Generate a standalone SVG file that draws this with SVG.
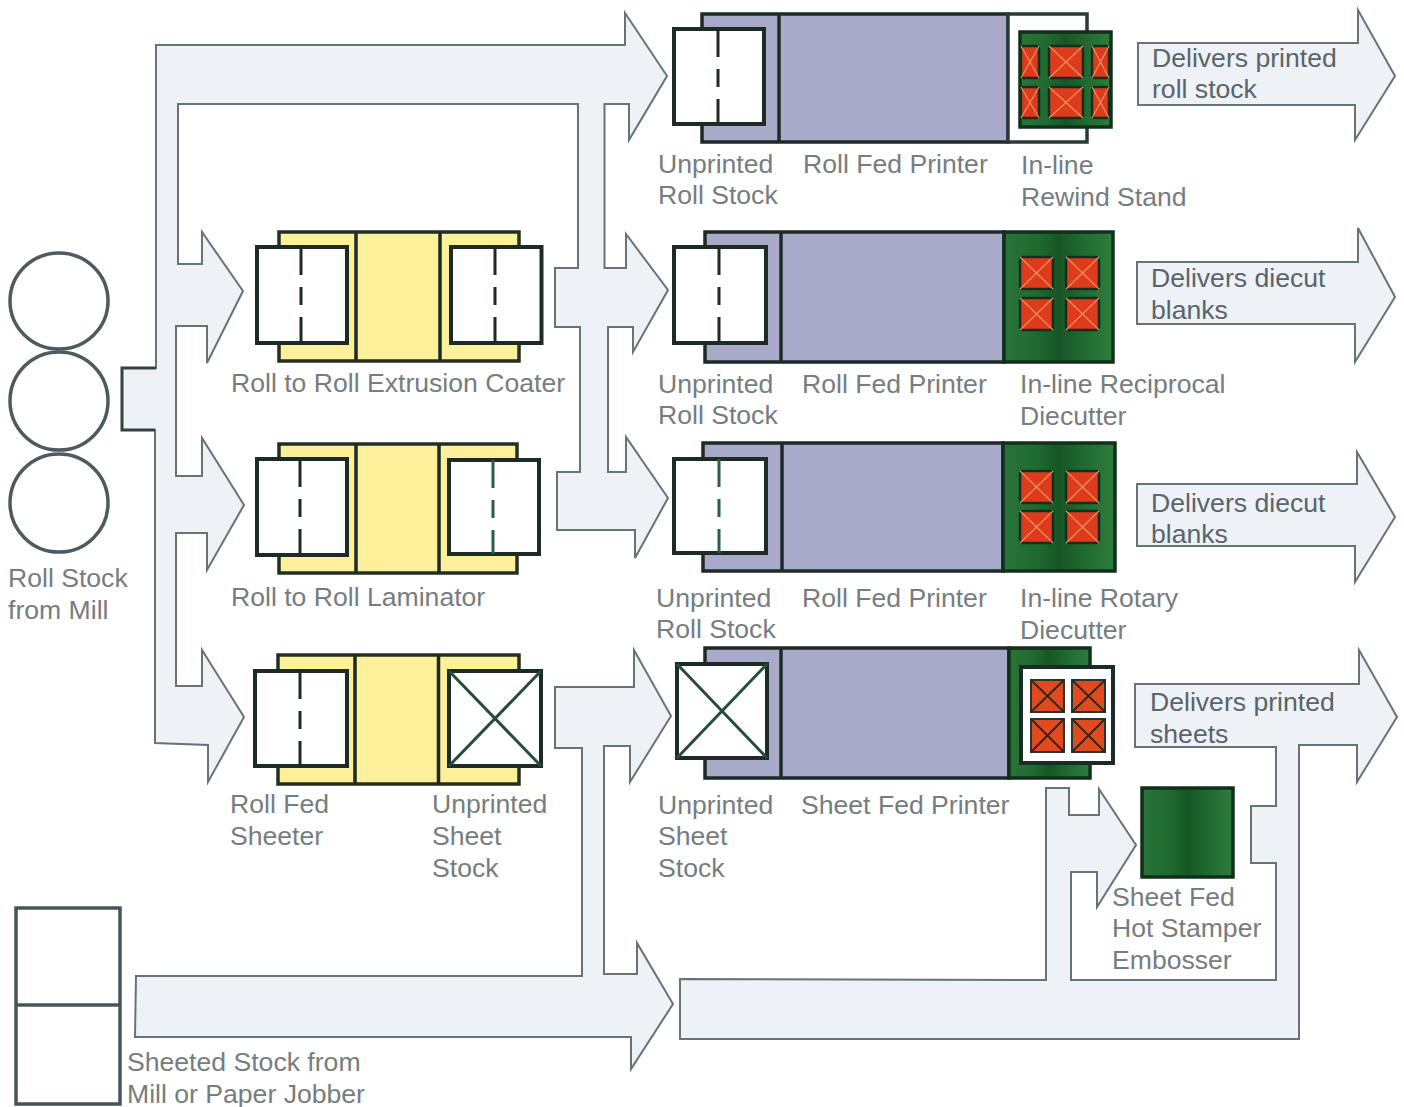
<svg xmlns="http://www.w3.org/2000/svg" width="1404" height="1107" viewBox="0 0 1404 1107">
<style>
text{font-family:"Liberation Sans",Arial,sans-serif;font-size:26.6px;fill:#767d80}
text.dk{fill:#58656a}
.flow{fill:#eef1f6;stroke:#667478;stroke-width:2;stroke-linejoin:miter}
.stub{fill:none;stroke:#34433f;stroke-width:3}
.ln{fill:none;stroke:#1d2b27;stroke-width:3.5}
.yl{fill:#fcf09a;stroke:#242f22;stroke-width:3.5}
.lv{fill:#a9a9c9;stroke:#1d2b27;stroke-width:3.5}
.wh{fill:#fff;stroke:#1d2b27;stroke-width:4}
.gr{fill:url(#band);stroke:#10301b;stroke-width:3.5}
.tile{fill:#de3a1c;stroke:#14301c;stroke-width:2.5}
.tile2{fill:#e04a1e;stroke:#26382c;stroke-width:2}
.x{stroke:#f0905e;stroke-width:1.2;fill:none}
.xk{stroke:#26281c;stroke-width:1.8;fill:none}
.xb{stroke:#274d3a;stroke-width:3;fill:none}
.dash{stroke:#1d2b27;stroke-width:3;stroke-dasharray:28 12 18 12 26;fill:none}
.dash.g{stroke:#2b5f4a}
.stock{fill:#fff;stroke:#465558;stroke-width:3.5}
.rd{fill:#fff;stroke:#4d5b60;stroke-width:3.5}
</style>
<defs>
<linearGradient id="band">
<stop offset="0" stop-color="#2a7439"/>
<stop offset="0.3" stop-color="#1f6a30"/>
<stop offset="0.5" stop-color="#175626"/>
<stop offset="0.75" stop-color="#216c32"/>
<stop offset="1" stop-color="#2f7c3e"/>
</linearGradient>
</defs>
<g id="connectors">
<polygon class="flow" points="122,368 156,368 156,45 625,45 625,13 667,76 629,140 629,104 604.5,104 604.5,268 626,268 626,234 668,290 633,352 633,327 608,327 608,472 626,472 626,437 668,498 635,558 635,530 557,530 557,472 580,472 580,327 555,327 555,268 578,268 578,104 178,104 178,264 202,264 202,232 243,291 207,363 207,326 176,326 176,476 202,476 202,438 244,505 207,570 207,533 176,533 176,686 202,686 202,650 244,717 208,782 208,745 155,743 155,430 122,430"/>
<polyline class="stub" points="156,368 122,368 122,430 155,430"/>
<polygon class="flow" points="136,976 582,976 582,748 555,748 555,687 634,687 634,650 671,716 630,782 630,746 604,746 604,974 637,974 637,943 673,1004 631,1069 631,1037 135,1037"/>
<polygon class="flow" points="680,979 1046,980 1046,788 1069,788 1069,815 1099,815 1099,789 1136,845 1097,907 1097,872 1071,872 1071,980 1276,980 1276,863 1251,863 1251,806 1276,806 1276,747 1135,747 1135,684 1359,684 1359,650 1397,717 1357,782 1357,745 1299,745 1299,1039 680,1039"/>
<polygon class="flow" points="1138,43 1358,43 1358,10 1395,76 1355,140 1355,105 1138,105"/>
<polygon class="flow" points="1137,262 1358,262 1358,228 1395,297 1355,362 1355,324 1137,324"/>
<polygon class="flow" points="1137,484 1357,484 1357,452 1395,517 1355,582 1355,546 1137,546"/>
</g>
<g id="mill-rolls">
<ellipse class="rd" cx="59" cy="301" rx="49" ry="48"/>
<ellipse class="rd" cx="59" cy="401" rx="49" ry="49"/>
<ellipse class="rd" cx="59" cy="503" rx="49" ry="49"/>
<text x="8" y="587">Roll Stock</text>
<text x="8" y="619">from Mill</text>
</g>
<g id="sheet-stock">
<rect class="stock" x="16" y="908" width="104" height="196"/>
<line class="stock" x1="16" y1="1005" x2="120" y2="1005"/>
<text x="127" y="1071">Sheeted Stock from</text>
<text x="127" y="1103">Mill or Paper Jobber</text>
</g>
<g id="extrusion-coater">
<rect class="yl" x="279" y="232" width="240" height="129"/>
<line class="ln" x1="356" y1="232" x2="356" y2="361"/>
<line class="ln" x1="440" y1="232" x2="440" y2="361"/>
<rect class="wh" x="257" y="247" width="90" height="96"/>
<line class="dash" x1="301" y1="247" x2="301" y2="343"/>
<rect class="wh" x="451" y="247" width="90.500" height="96"/>
<line class="dash" x1="495" y1="247" x2="495" y2="343"/>
<text x="231" y="392">Roll to Roll Extrusion Coater</text>
</g>
<g id="laminator">
<rect class="yl" x="279" y="444" width="238" height="129"/>
<line class="ln" x1="356" y1="444" x2="356" y2="573"/>
<line class="ln" x1="439" y1="444" x2="439" y2="573"/>
<rect class="wh" x="257" y="459" width="90" height="96"/>
<line class="dash" x1="300" y1="459" x2="300" y2="555"/>
<rect class="wh" x="449" y="460" width="90" height="94"/>
<line class="dash g" x1="493" y1="460" x2="493" y2="554"/>
<text x="231" y="606">Roll to Roll Laminator</text>
</g>
<g id="sheeter">
<rect class="yl" x="278" y="655" width="241" height="129"/>
<line class="ln" x1="355" y1="655" x2="355" y2="784"/>
<line class="ln" x1="438.500" y1="655" x2="438.500" y2="784"/>
<rect class="wh" x="255" y="671" width="92" height="95"/>
<line class="dash" x1="300" y1="671" x2="300" y2="766"/>
<rect class="wh" x="449" y="671" width="92" height="95"/>
<path class="xb" d="M449,671L541,766M541,671L449,766"/>
<text x="230" y="813">Roll Fed</text>
<text x="230" y="845">Sheeter</text>
<text x="432" y="813">Unprinted</text>
<text x="432" y="845">Sheet</text>
<text x="432" y="877">Stock</text>
</g>
<g id="printer-rewind">
<rect class="lv" x="702" y="14" width="306" height="128"/>
<rect x="1008" y="14" width="79" height="128" fill="#fff" stroke="#2a3a38" stroke-width="3.5"/>
<line class="ln" x1="779" y1="14" x2="779" y2="142"/>
<rect class="wh" x="674" y="29" width="90" height="95"/>
<line class="dash" x1="718" y1="29" x2="718" y2="124"/>
<rect class="gr" x="1020" y="32" width="91" height="95"/>
<rect class="tile" x="1021" y="46" width="18" height="32" rx="3"/>
<rect class="tile" x="1049" y="46" width="34" height="32" rx="3"/>
<rect class="tile" x="1092" y="46" width="17" height="32" rx="3"/>
<rect class="tile" x="1021" y="87" width="18" height="31" rx="3"/>
<rect class="tile" x="1049" y="87" width="34" height="31" rx="3"/>
<rect class="tile" x="1092" y="87" width="17" height="31" rx="3"/>
<path class="x" d="M1021,46L1039,78M1039,46L1021,78M1049,46L1083,78M1083,46L1049,78M1092,46L1109,78M1109,46L1092,78M1021,87L1039,118M1039,87L1021,118M1049,87L1083,118M1083,87L1049,118M1092,87L1109,118M1109,87L1092,118"/>
<text x="658" y="173">Unprinted</text>
<text x="658" y="204">Roll Stock</text>
<text x="803" y="173">Roll Fed Printer</text>
<text x="1021" y="174">In-line</text>
<text x="1021" y="206">Rewind Stand</text>
<text class="dk" x="1152" y="67">Delivers printed</text>
<text class="dk" x="1152" y="98">roll stock</text>
</g>
<g id="printer-reciprocal">
<rect class="lv" x="705" y="232" width="299" height="130"/>
<rect class="gr" x="1004" y="232" width="109" height="130"/>
<line class="ln" x1="781" y1="232" x2="781" y2="362"/>
<rect class="wh" x="674" y="247" width="92" height="96"/>
<line class="dash" x1="719" y1="247" x2="719" y2="343"/>
<rect class="tile" x="1020" y="257" width="33" height="32" rx="3"/>
<rect class="tile" x="1066" y="257" width="33" height="32" rx="3"/>
<rect class="tile" x="1020" y="298" width="33" height="32" rx="3"/>
<rect class="tile" x="1066" y="298" width="33" height="32" rx="3"/>
<path class="x" d="M1020,257L1053,289M1053,257L1020,289M1066,257L1099,289M1099,257L1066,289M1020,298L1053,330M1053,298L1020,330M1066,298L1099,330M1099,298L1066,330"/>
<text x="658" y="393">Unprinted</text>
<text x="658" y="424">Roll Stock</text>
<text x="802" y="393">Roll Fed Printer</text>
<text x="1020" y="393">In-line Reciprocal</text>
<text x="1020" y="425">Diecutter</text>
<text class="dk" x="1151" y="287">Delivers diecut</text>
<text class="dk" x="1151" y="319">blanks</text>
</g>
<g id="printer-rotary">
<rect class="lv" x="703" y="443" width="300" height="128"/>
<rect class="gr" x="1003" y="443" width="112" height="128"/>
<line class="ln" x1="782" y1="443" x2="782" y2="571"/>
<rect class="wh" x="674" y="459" width="92" height="94"/>
<line class="dash g" x1="719" y1="459" x2="719" y2="553"/>
<rect class="tile" x="1020" y="471" width="33" height="32" rx="3"/>
<rect class="tile" x="1066" y="471" width="33" height="32" rx="3"/>
<rect class="tile" x="1020" y="511" width="33" height="32" rx="3"/>
<rect class="tile" x="1066" y="511" width="33" height="32" rx="3"/>
<path class="x" d="M1020,471L1053,503M1053,471L1020,503M1066,471L1099,503M1099,471L1066,503M1020,511L1053,543M1053,511L1020,543M1066,511L1099,543M1099,511L1066,543"/>
<text x="656" y="607">Unprinted</text>
<text x="656" y="638">Roll Stock</text>
<text x="802" y="607">Roll Fed Printer</text>
<text x="1020" y="607">In-line Rotary</text>
<text x="1020" y="639">Diecutter</text>
<text class="dk" x="1151" y="512">Delivers diecut</text>
<text class="dk" x="1151" y="543">blanks</text>
</g>
<g id="printer-sheet">
<rect class="lv" x="705" y="648" width="304" height="130"/>
<rect class="gr" x="1009" y="648" width="81" height="130"/>
<line class="ln" x1="781" y1="648" x2="781" y2="778"/>
<rect class="wh" x="677" y="664" width="90" height="94"/>
<path class="xb" d="M677,664L767,758M767,664L677,758"/>
<rect class="wh" x="1021" y="667" width="92" height="96"/>
<rect class="tile2" x="1031" y="680" width="33" height="32"/>
<rect class="tile2" x="1072" y="680" width="33" height="32"/>
<rect class="tile2" x="1031" y="719" width="33" height="33"/>
<rect class="tile2" x="1072" y="719" width="33" height="33"/>
<path class="xk" d="M1031,680L1064,712M1064,680L1031,712M1072,680L1105,712M1105,680L1072,712M1031,719L1064,752M1064,719L1031,752M1072,719L1105,752M1105,719L1072,752"/>
<text x="658" y="814">Unprinted</text>
<text x="658" y="845">Sheet</text>
<text x="658" y="877">Stock</text>
<text x="801" y="814">Sheet Fed Printer</text>
<text class="dk" x="1150" y="711">Delivers printed</text>
<text class="dk" x="1150" y="743">sheets</text>
</g>
<g id="hot-stamper">
<rect class="gr" x="1142" y="788" width="91" height="89"/>
<text x="1112" y="906">Sheet Fed</text>
<text x="1112" y="937">Hot Stamper</text>
<text x="1112" y="969">Embosser</text>
</g>
</svg>
